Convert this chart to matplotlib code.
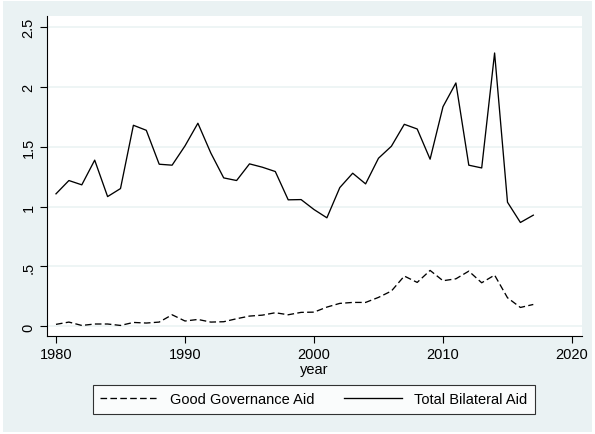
import matplotlib
matplotlib.use("Agg")
import matplotlib.pyplot as plt
from matplotlib.patches import Rectangle

plt.rcParams['font.family'] = ['Liberation Sans', 'DejaVu Sans']

years = list(range(1980, 2018))

# total bilateral aid (solid line)
total_aid = [1.106, 1.217, 1.181, 1.387, 1.083, 1.150, 1.678, 1.636, 1.353, 1.345,
             1.506, 1.695, 1.447, 1.239, 1.217, 1.356, 1.328, 1.292, 1.056, 1.058,
             0.975, 0.906, 1.158, 1.278, 1.189, 1.403, 1.503, 1.686, 1.647, 1.395,
             1.833, 2.031, 1.345, 1.322, 2.281, 1.036, 0.867, 0.928]

# good governance aid (dashed line)
gov_aid = [0.017, 0.036, 0.008, 0.020, 0.020, 0.008, 0.033, 0.028, 0.036, 0.097,
           0.045, 0.058, 0.036, 0.039, 0.064, 0.086, 0.094, 0.114, 0.097, 0.117,
           0.119, 0.161, 0.192, 0.200, 0.200, 0.242, 0.295, 0.420, 0.367, 0.467,
           0.381, 0.397, 0.461, 0.364, 0.428, 0.239, 0.158, 0.183]

xticks = [1980, 1990, 2000, 2010, 2020]
yticks = [0, 0.5, 1, 1.5, 2, 2.5]
ytick_labels = ['0', '.5', '1', '1.5', '2', '2.5']

bg = '#EAF2F3'
fs = 10.5

fig = plt.figure(figsize=(5.95, 4.35), dpi=100, facecolor='white')
# stata-ish graph region, with a thin white border
fig.patches.append(Rectangle((3 / 595, 2 / 435), 589 / 595, 431 / 435,
                             transform=fig.transFigure, facecolor=bg,
                             edgecolor='none', zorder=-10))

ax = fig.add_axes([0.0785, 0.226, 0.8991, 0.7342])
ax.set_facecolor('white')

ax.plot(years, gov_aid, color='black', lw=0.95, dashes=(5.0, 2.5),
        label='Good Governance Aid')
ax.plot(years, total_aid, color='black', lw=0.95, label='Total Bilateral Aid')

ax.set_xlim(1979.28, 2020.75)
ax.set_ylim(-0.0775, 2.587)
ax.set_xticks(xticks)
ax.set_xticklabels([str(x) for x in xticks], fontsize=fs)
ax.set_yticks(yticks)
ax.set_yticklabels(ytick_labels, fontsize=fs, rotation=90, va='center')
ax.tick_params(axis='both', direction='out', length=5, width=0.8, color='black')
ax.tick_params(axis='y', pad=3)
ax.tick_params(axis='x', pad=3)

ax.yaxis.grid(True, color=bg, lw=1.1)
ax.set_axisbelow(True)

for s in ['top', 'right']:
    ax.spines[s].set_visible(False)
for s in ['left', 'bottom']:
    ax.spines[s].set_linewidth(0.8)

ax.set_xlabel('year', fontsize=fs, labelpad=1)

leg = ax.legend(loc='center', bbox_to_anchor=(0.5274, 0.0798),
                bbox_transform=fig.transFigure, ncol=2, fontsize=fs,
                frameon=True, fancybox=False, handlelength=4.0,
                handletextpad=0.8, columnspacing=2.0, borderpad=0.5,
                borderaxespad=0)
leg.get_frame().set_edgecolor('black')
leg.get_frame().set_linewidth(0.8)
leg.get_frame().set_facecolor('white')

fig.savefig('out.png', dpi=100, facecolor=fig.get_facecolor())
